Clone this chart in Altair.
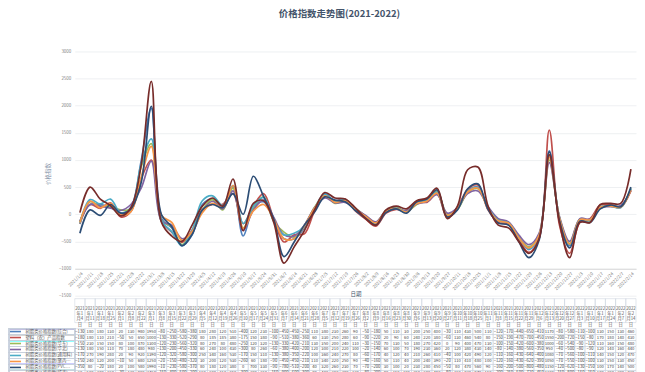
import altair as alt
import pandas as pd

# ---------------- data ----------------
dates = [
    "2021-01-04", "2021-01-11", "2021-01-18", "2021-01-25", "2021-02-01", "2021-02-08", "2021-02-22",
    "2021-03-01", "2021-03-08", "2021-03-15", "2021-03-22", "2021-03-29", "2021-04-05", "2021-04-12",
    "2021-04-19", "2021-04-26", "2021-05-10", "2021-05-17", "2021-05-24", "2021-05-31", "2021-06-07",
    "2021-06-14", "2021-06-21", "2021-06-28", "2021-07-05", "2021-07-12", "2021-07-19", "2021-07-26",
    "2021-08-02", "2021-08-09", "2021-08-16", "2021-08-23", "2021-08-30", "2021-09-06", "2021-09-13",
    "2021-09-20", "2021-09-27", "2021-10-11", "2021-10-18", "2021-10-25", "2021-11-01", "2021-11-08",
    "2021-11-15", "2021-11-22", "2021-11-29", "2021-12-06", "2021-12-13", "2021-12-20", "2021-12-27",
    "2022-01-03", "2022-01-10", "2022-01-17", "2022-01-24", "2022-02-07", "2022-02-14",
]

series_names = [
    "树脂类价格指数(综合)",
    "塑料（农）产品指数",
    "树脂类价格指数(华东)",
    "树脂类价格指数(华北)",
    "树脂类价格指数(通用料)",
    "树脂类价格指数(聚丙烯牌号)",
    "树脂类价格指数(PVC专用)",
    "树脂类价格指数(华南)",
]
colors = ["#4F81BD", "#C0504D", "#9BBB59", "#8064A2", "#4BACC6", "#F79646", "#2C4D75", "#772C2A"]

s1 = [-130, 180, 180, 130, 20, 130, 980, 1950, -80, -250, -580, -380, 180, 280, 120, 510, -400, 120, 230, -100,
      -450, -450, -250, 110, 380, 230, 260, 90, -50, -180, 50, 110, 30, 200, 250, 400, -30, 110, 430, 500,
      110, -120, -170, -440, -650, -410, 1170, -80, -580, -110, -100, 130, 150, 130, 460]
s2 = [-180, 180, 110, 210, -50, 50, 650, 1000, -130, -330, -520, -290, 80, 185, 185, 380, -175, 150, 380, -90,
      -510, -380, -360, 60, 330, 250, 280, 60, -90, -220, 20, 90, 60, 240, 220, 380, -60, 130, 460, 540,
      80, -150, -190, -470, -700, -450, 1550, -200, -720, -150, -80, 170, 180, 140, 430]
s3 = [-150, 230, 150, 150, 80, 100, 870, 1300, -120, -230, -560, -320, 80, 270, 80, 480, -250, 120, 320, -130,
      -330, -420, -210, 130, 350, 200, 240, 110, -30, -150, 70, 130, 50, 180, 270, 420, 0, 90, 400, 470,
      130, -100, -150, -420, -600, -380, 1000, -60, -540, -90, -120, 110, 160, 150, 480]
s4 = [-130, 180, 150, 110, 70, 180, 480, 980, -130, -200, -450, -330, 60, 240, 100, 430, -300, 80, 260, -60,
      -380, -400, -200, 120, 300, 210, 220, 100, -20, -140, 60, 100, 70, 190, 230, 360, 20, 120, 380, 430,
      140, -80, -140, -380, -560, -350, 950, -40, -500, -80, -90, 120, 140, 160, 440]
s5 = [-170, 270, 190, 280, 20, 90, 920, 1390, -120, -320, -580, -300, 250, 340, 160, 530, -170, 150, 310, -130,
      -380, -350, -220, 100, 360, 240, 270, 80, -60, -170, 40, 120, 40, 210, 260, 410, -40, 100, 420, 490,
      120, -110, -160, -430, -640, -400, 1080, -70, -560, -100, -110, 140, 150, 120, 470]
s6 = [-150, 240, 120, 200, -10, 50, 680, 1250, -20, -150, -480, -320, 30, 200, 120, 530, -260, 60, 180, -90,
      -450, -450, -210, 110, 340, 220, 250, 90, -40, -160, 50, 110, 40, 200, 240, 390, -20, 110, 410, 480,
      100, -120, -160, -430, -620, -390, 1050, -70, -550, -100, -100, 130, 150, 130, 450]
s7 = [-350, 80, -20, 180, 20, 100, 580, 1990, -10, -230, -580, -370, 80, 180, 120, 380, 0, 700, 330, -90,
      -780, -510, -200, 40, 320, 260, 230, 70, -70, -200, 30, 100, 20, 230, 280, 450, -50, 80, 470, 560,
      90, -160, -200, -500, -800, -480, 1150, -120, -620, -130, -150, 100, 170, 140, 500]
s8 = [30, 500, 280, 160, -30, 120, 900, 2450, -150, -400, -500, -200, 150, 300, 150, 650, -300, 200, 250, -150,
      -900, -600, -300, 80, 400, 300, 280, 120, -80, -200, 80, 150, 100, 250, 300, 480, -80, 150, 820, 870,
      150, -200, -250, -500, -720, -450, 1100, -150, -800, -150, -150, 180, 200, 200, 830]

all_series = [s1, s2, s3, s4, s5, s6, s7, s8]
N = len(dates)

axis_labels = []
header_labels = []
for d in dates:
    y, m, dd = d.split("-")
    axis_labels.append(f"{y}/{int(m)}/{int(dd)}")
    header_labels.append(f"{y}\n年{int(m)}\n月{int(dd)}\n日")

rows = []
for name, vals in zip(series_names, all_series):
    for i, v in enumerate(vals):
        rows.append({"series": name, "idx": i, "value": v})
df = pd.DataFrame(rows)
hdr_df = pd.DataFrame({"idx": list(range(N)), "hdr": header_labels})

# ---------------- chart ----------------
W = 563
FONT = "Noto Sans CJK SC"
GRID = "#e3e6ea"
CELL = "#c9d1dc"
xscale = alt.Scale(domain=[-0.5, N - 0.5], nice=False, zero=False)
cscale = alt.Scale(domain=series_names, range=colors)
label_expr = "[" + ",".join(f"'{s}'" for s in axis_labels) + "][datum.value]"

lines = alt.Chart(df).mark_line(interpolate="catmull-rom", strokeWidth=1.7).encode(
    x=alt.X("idx:Q", scale=xscale,
            axis=alt.Axis(title="日期", values=list(range(N)), labelExpr=label_expr, labelAngle=-45,
                          labelFontSize=4.5, labelColor="#7f7f7f", offset=-27, grid=False,
                          domainColor="#d9d9d9", ticks=False, tickSize=0, labelPadding=2,
                          titleFontSize=5.5, titlePadding=1, titleColor="#44546A",
                          titleFontWeight="normal", labelOverlap=False, labelFlush=False)),
    y=alt.Y("value:Q", scale=alt.Scale(domain=[-1500, 3000], nice=False),
            axis=alt.Axis(values=list(range(-1500, 3001, 500)), format="d", title="价格指数",
                          titleFontSize=5.5, titleColor="#7f8fa6", titleFontWeight="normal",
                          titlePadding=8, labelFontSize=4.5, labelColor="#7f7f7f", domain=False,
                          ticks=False, tickSize=0, gridColor=GRID, gridWidth=0.6, labelPadding=4)),
    color=alt.Color("series:N", scale=cscale, legend=None),
    detail="series:N",
).properties(width=W, height=245)

hdr_base = alt.Chart(hdr_df).transform_calculate(x0="datum.idx - 0.5", x1="datum.idx + 0.5")
hdr_cells = hdr_base.mark_rect(fillOpacity=0, stroke=CELL, strokeWidth=0.5).encode(
    x=alt.X("x0:Q", scale=xscale, axis=None), x2="x1:Q",
    y=alt.value(0), y2=alt.value("height"),
)
hdr_text = hdr_base.mark_text(lineBreak="\n", fontSize=4.3, lineHeight=5.4, color="#595959",
                              baseline="middle").encode(
    x=alt.X("idx:Q", scale=xscale, axis=None),
    y=alt.value(10),
    text="hdr:N",
)
header = alt.layer(hdr_cells, hdr_text).properties(width=W, height=24)

body_base = alt.Chart(df).transform_calculate(x0="datum.idx - 0.5", x1="datum.idx + 0.5")
yband = alt.Scale(domain=series_names, paddingInner=0, paddingOuter=0)
body_cells = body_base.mark_rect(fillOpacity=0, stroke=CELL, strokeWidth=0.5).encode(
    x=alt.X("x0:Q", scale=xscale, axis=None), x2="x1:Q",
    y=alt.Y("series:N", scale=yband,
            axis=alt.Axis(title=None, labelAlign="left", labelPadding=50, ticks=False, tickSize=0,
                          domain=False, labelFontSize=4.4, labelColor="#595959", labelLimit=49)),
)
legend_cells = body_base.mark_rect(fillOpacity=0, stroke=CELL, strokeWidth=0.5).encode(
    x=alt.value(-66), x2=alt.value(0),
    y=alt.Y("series:N", scale=yband),
)
swatch = alt.Chart(pd.DataFrame({"series": series_names})).mark_rule(strokeWidth=1.6).encode(
    x=alt.value(-65), x2=alt.value(-54),
    y=alt.Y("series:N", scale=yband),
    color=alt.Color("series:N", scale=cscale, legend=None),
)
body_text = body_base.mark_text(fontSize=4.2, color="#404040", baseline="middle").encode(
    x=alt.X("idx:Q", scale=xscale, axis=None),
    y=alt.Y("series:N", scale=yband),
    text=alt.Text("value:Q", format="d"),
)
body = alt.layer(legend_cells, body_cells, swatch, body_text).properties(width=W, height=48)

chart = alt.vconcat(lines, header, body, spacing=0).properties(
    title=alt.Title("价格指数走势图(2021-2022)", fontSize=9.5, fontWeight="bold", color="#44546A",
                    offset=30, dx=17, anchor="middle"),
    padding={"left": 0, "top": 0, "right": 0, "bottom": 0},
).configure(font=FONT).configure_view(stroke=None)

chart.save("out.html", embed_options={"renderer": "svg", "actions": False})
